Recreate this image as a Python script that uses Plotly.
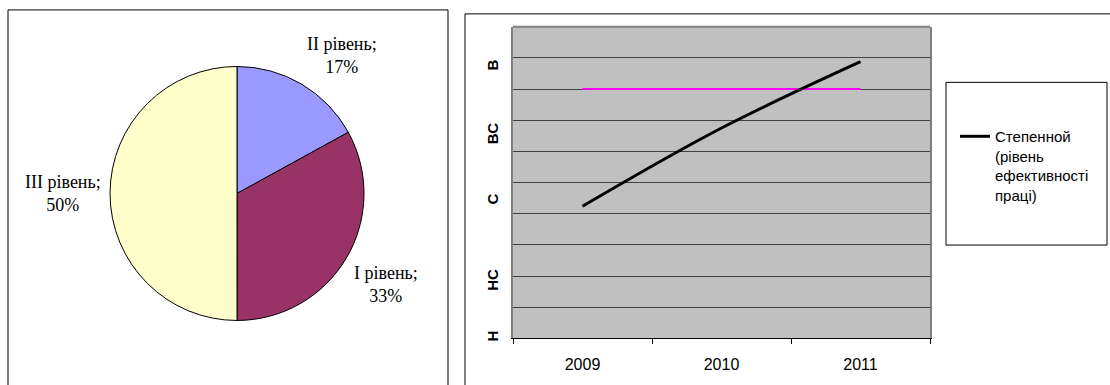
import math
import plotly.graph_objects as go

W, H = 1110, 385

# ---- data ----
pie_labels = ["II рівень", "I рівень", "III рівень"]
pie_values = [17, 33, 50]
pie_colors = ["#9999FF", "#993366", "#FFFFCC"]

years = ["2009", "2010", "2011"]
trend_values = [4.24, 6.75, 8.88]
target_values = [8.0, 8.0, 8.0]
trend_name = "Степенной<br>(рівень<br>ефективності<br>праці)"

level_labels = ["Н", "НС", "С", "ВС", "В"]
level_positions = [0.0, 1.8, 4.4, 6.5, 8.7]


def px(x):
    return x / W


def py(y):
    return 1 - y / H


fig = go.Figure()

# Pie chart
cx, cy, r = 237, 195, 128
fig.add_trace(go.Pie(
    labels=pie_labels,
    values=pie_values,
    sort=False,
    direction="clockwise",
    rotation=0,
    marker=dict(colors=pie_colors, line=dict(color="black", width=1)),
    textinfo="none",
    showlegend=False,
    domain=dict(x=[px(cx - r), px(cx + r)], y=[py(cy + r), py(cy - r)]),
    hoverinfo="label+percent",
))

# outside data labels placed at slice mid-angles
total = sum(pie_values)
annotations = []
cum = 0.0
label_gap = 6
for lab, val in zip(pie_labels, pie_values):
    mid = (cum + val / 2) / total * 2 * math.pi
    cum += val
    sx, sy = math.sin(mid), -math.cos(mid)
    ax = cx + (r + label_gap) * sx
    ay = cy + (r + label_gap) * sy
    xanchor = "left" if sx > 0.2 else ("right" if sx < -0.2 else "center")
    yanchor = "top" if sy > 0.2 else ("bottom" if sy < -0.2 else "middle")
    annotations.append(dict(
        x=px(ax), y=py(ay), xref="paper", yref="paper",
        xanchor=xanchor, yanchor=yanchor, showarrow=False, align="center",
        text=f"{lab};<br>{round(val / total * 100)}%",
        font=dict(family="Liberation Serif", size=18, color="black"),
    ))

# Line chart
fig.add_trace(go.Scatter(
    x=years, y=target_values, mode="lines",
    line=dict(color="#FF00FF", width=2),
    showlegend=False, xaxis="x", yaxis="y",
))
fig.add_trace(go.Scatter(
    x=years, y=trend_values, mode="lines",
    line=dict(color="black", width=3, shape="spline", smoothing=1),
    name=trend_name, showlegend=True, xaxis="x", yaxis="y",
))

plot_l, plot_r, plot_t, plot_b = 513, 930, 27, 341

fig.update_layout(
    width=W, height=H,
    margin=dict(l=0, r=0, t=0, b=0),
    paper_bgcolor="white",
    plot_bgcolor="#C0C0C0",
    annotations=annotations,
    xaxis=dict(
        domain=[px(plot_l), px(plot_r)],
        type="category",
        categoryorder="array", categoryarray=years,
        range=[-0.5, 2.5],
        tickson="boundaries",
        ticks="outside", ticklen=5, tickcolor="black",
        showline=True, linecolor="black", linewidth=1,
        showgrid=False, zeroline=False,
        tickfont=dict(family="Liberation Sans", size=16, color="black"),
        ticklabelstandoff=11,
        anchor="y",
    ),
    yaxis=dict(
        domain=[py(plot_b), py(plot_t)],
        range=[0, 10],
        tickmode="array", tickvals=level_positions, ticktext=level_labels,
        tickangle=-90,
        ticks="",
        showgrid=False, zeroline=False,
        showline=True, linecolor="#808080", linewidth=2, mirror=True,
        tickfont=dict(family="Liberation Sans", size=15, color="black", weight="bold"),
        ticklabelstandoff=7,
        minor=dict(tickmode="linear", tick0=0, dtick=1, showgrid=True,
                   gridcolor="#404040", gridwidth=1, ticks=""),
        anchor="x",
    ),
    legend=dict(
        x=px(955), y=py(121), xanchor="left", yanchor="top",
        bgcolor="rgba(0,0,0,0)", borderwidth=0,
        valign="top",
        font=dict(family="Liberation Sans", size=15, color="black"),
    ),
    shapes=[
        # left panel frame
        dict(type="rect", xref="paper", yref="paper",
             x0=px(8), x1=px(448), y0=py(395), y1=py(10),
             line=dict(color="black", width=1), layer="below"),
        # right panel frame
        dict(type="rect", xref="paper", yref="paper",
             x0=px(465), x1=px(1120), y0=py(395), y1=py(14),
             line=dict(color="black", width=1), layer="below"),
        # legend frame
        dict(type="rect", xref="paper", yref="paper",
             x0=px(946), x1=px(1107), y0=py(247), y1=py(83),
             line=dict(color="black", width=1), layer="below"),
        # top border of plot area
        dict(type="line", xref="x domain", yref="y domain",
             x0=0, x1=1, y0=1, y1=1,
             line=dict(color="#808080", width=2)),
    ],
)

fig.write_html("out.html")
